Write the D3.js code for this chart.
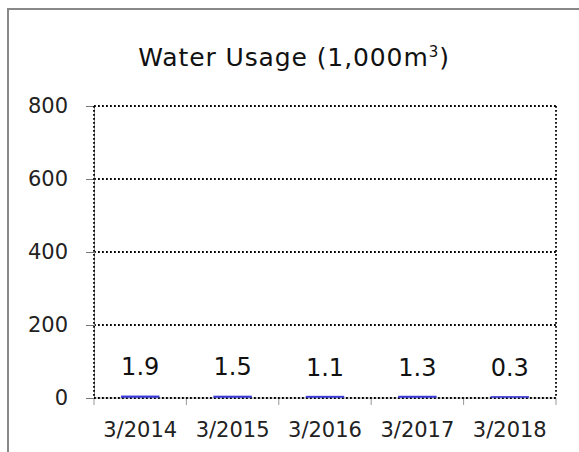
<!DOCTYPE html>
<html>
<head>
<meta charset="utf-8">
<script src="https://cdn.jsdelivr.net/npm/d3@7"></script>
<style>
  html, body { margin: 0; padding: 0; background: #fff; }
  svg { display: block; font-family: "DejaVu Sans", Verdana, sans-serif; }
</style>
</head>
<body>
<svg id="chart" width="579" height="452"></svg>
<script>
// Annual water usage, in thousands of cubic metres
const categories = ["3/2014", "3/2015", "3/2016", "3/2017", "3/2018"];
const usage = [1.9, 1.5, 1.1, 1.3, 0.3];
const usageLabels = ["1.9", "1.5", "1.1", "1.3", "0.3"];
const yTicks = [0, 200, 400, 600, 800];

const svg = d3.select("#chart");
const W = 579, H = 452;
const plot = { left: 94, right: 556, top: 106, bottom: 398 };

// outer frame (continues past the visible edge)
svg.append("rect")
  .attr("x", 8).attr("y", 9)
  .attr("width", W + 20).attr("height", H + 20)
  .attr("fill", "none").attr("stroke", "#888").attr("stroke-width", 2);

// title
const title = svg.append("text")
  .attr("x", 294).attr("y", 66)
  .attr("text-anchor", "middle")
  .attr("font-size", 25).attr("letter-spacing", 0.9).attr("fill", "#111");
title.append("tspan").text("Water Usage (1,000m");
title.append("tspan").attr("font-size", 15).attr("dy", -9).text("3");
title.append("tspan").attr("dy", 9).text(")");

const x = d3.scaleBand().domain(categories)
  .range([plot.left, plot.right]).paddingInner(0.6).paddingOuter(0.3);
const xEdges = d3.scaleLinear().domain([0, categories.length]).range([plot.left, plot.right]);
const y = d3.scaleLinear().domain([0, 800]).range([plot.bottom, plot.top]);

// dotted gridlines and plot-area border
function dotted(sel) {
  return sel.attr("stroke", "#000").attr("stroke-width", 1.8)
    .attr("stroke-dasharray", "1.8,2.2");
}
dotted(svg.append("g").selectAll("line").data(yTicks.filter(d => d > 0)).join("line")
  .attr("x1", plot.left).attr("x2", plot.right)
  .attr("y1", d => y(d)).attr("y2", d => y(d)));
dotted(svg.append("line").attr("x1", plot.right).attr("x2", plot.right)
  .attr("y1", plot.top).attr("y2", plot.bottom));

// y axis
const yAxis = svg.append("g").attr("transform", `translate(${plot.left},0)`)
  .call(d3.axisLeft(y).tickValues(yTicks).tickSize(8).tickPadding(18).tickFormat(d3.format("d")));
yAxis.select(".domain").attr("stroke", "#888");
yAxis.selectAll(".tick line").attr("stroke", "#777");
yAxis.selectAll(".tick text").attr("font-size", 21).attr("fill", "#222")
  .attr("font-family", "DejaVu Sans, Verdana, sans-serif");
dotted(svg.append("line").attr("x1", plot.left).attr("x2", plot.left)
  .attr("y1", plot.top).attr("y2", plot.bottom));

// x axis: ticks at category boundaries, labels centred in each band
const xAxis = svg.append("g").attr("transform", `translate(0,${plot.bottom})`);
xAxis.append("line").attr("x1", plot.left).attr("x2", plot.right)
  .attr("stroke", "#999");
xAxis.selectAll("line.tk").data(d3.range(categories.length + 1)).join("line")
  .attr("class", "tk")
  .attr("x1", d => xEdges(d)).attr("x2", d => xEdges(d))
  .attr("y1", 0).attr("y2", 7).attr("stroke", "#999");
xAxis.selectAll("text").data(categories).join("text")
  .attr("x", d => x(d) + x.bandwidth() / 2).attr("y", 39)
  .attr("text-anchor", "middle").attr("font-size", 21).attr("fill", "#222")
  .text(d => d);
dotted(svg.append("line").attr("x1", plot.left).attr("x2", plot.right)
  .attr("y1", plot.bottom).attr("y2", plot.bottom));

// bars
svg.append("g").selectAll("rect").data(usage).join("rect")
  .attr("x", (d, i) => x(categories[i]))
  .attr("width", x.bandwidth())
  .attr("y", d => y(d) - 1)
  .attr("height", d => plot.bottom - y(d))
  .attr("fill", "#3a3ad8").attr("stroke", "#3a3ad8").attr("stroke-width", 1.5);

// value labels
svg.append("g").selectAll("text").data(usage).join("text")
  .attr("x", (d, i) => x(categories[i]) + x.bandwidth() / 2)
  .attr("y", d => y(d) - 22)
  .attr("text-anchor", "middle").attr("font-size", 24).attr("fill", "#111")
  .text((d, i) => usageLabels[i]);
</script>
</body>
</html>
